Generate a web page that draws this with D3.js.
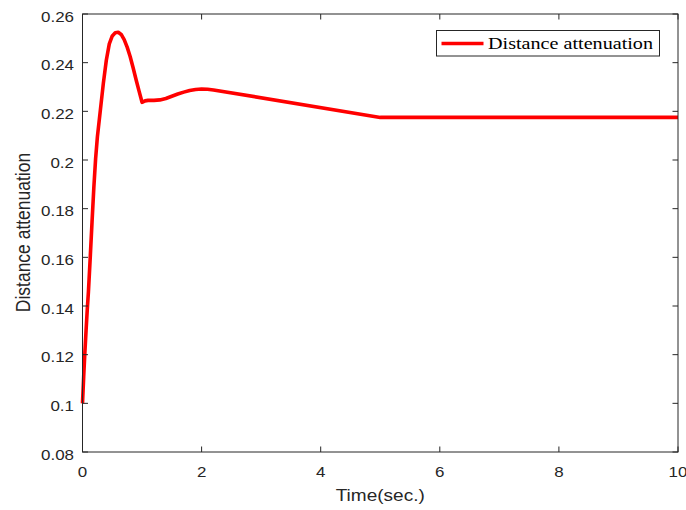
<!DOCTYPE html>
<html lang="en">
<head>
    <meta charset="UTF-8">
    <title>Distance attenuation</title>
    <script src="https://d3js.org/d3.v7.min.js"></script>
    <style>
        body {
            margin: 0;
            background: #fff;
        }
        svg {
            display: block;
        }
        .tick-label, .axis-title {
            font-family: "Liberation Sans", Arial, sans-serif;
            fill: #262626;
        }
        .legend-text {
            font-family: "Liberation Serif", "Times New Roman", serif;
            fill: #000;
        }
    </style>
</head>
<body>
    <script>
        const width = 686;
        const height = 510;

        // Time (sec.) and distance attenuation
        const timeValues = [0, 0.02, 0.04, 0.06, 0.08, 0.1, 0.13, 0.16, 0.19, 0.22, 0.25, 0.3, 0.35, 0.4, 0.45, 0.5,
            0.55, 0.6, 0.65, 0.7, 0.75, 0.8, 0.85, 0.9, 0.95, 1.0, 1.05, 1.1, 1.2, 1.3, 1.4, 1.5, 1.6, 1.7,
            1.8, 1.9, 2.0, 2.1, 2.2, 5.0, 10.0];
        const attenuationValues = [0.1, 0.111, 0.121, 0.13, 0.1385, 0.146, 0.16, 0.1745, 0.1885, 0.2005, 0.2095,
            0.2205, 0.2315, 0.241, 0.2477, 0.251, 0.2523, 0.2525, 0.2516, 0.2495, 0.2464, 0.2425, 0.2379, 0.233,
            0.2283, 0.2237, 0.2243, 0.2245, 0.2245, 0.2247, 0.2253, 0.2262, 0.2271, 0.2279, 0.2286, 0.229,
            0.2292, 0.2291, 0.2288, 0.2175, 0.2175];

        const xTicks = [0, 2, 4, 6, 8, 10];
        const yTicks = [0.08, 0.1, 0.12, 0.14, 0.16, 0.18, 0.2, 0.22, 0.24, 0.26];
        const seriesName = "Distance attenuation";
        const xTitle = "Time(sec.)";
        const yTitle = "Distance attenuation";

        const plot = { left: 82.5, right: 678, top: 14, bottom: 452 };
        const axisColor = "#262626";
        const tickLen = 5.5;

        const svg = d3.select("body").append("svg")
            .attr("width", width)
            .attr("height", height);

        const x = d3.scaleLinear().domain([0, 10]).range([plot.left, plot.right]);
        const y = d3.scaleLinear().domain([0.08, 0.26]).range([plot.bottom, plot.top]);

        const data = timeValues.map((t, i) => ({ t: t, v: attenuationValues[i] }));

        // data line (drawn first, box goes on top like matlab)
        const line = d3.line()
            .x(d => x(d.t))
            .y(d => y(d.v));

        svg.append("path")
            .datum(data)
            .attr("fill", "none")
            .attr("stroke", "#ff0000")
            .attr("stroke-width", 3.6)
            .attr("stroke-linejoin", "round")
            .attr("d", line);

        // ticks, inward on all four sides
        const ticks = svg.append("g")
            .attr("stroke", axisColor)
            .attr("stroke-width", 1);

        xTicks.forEach(t => {
            ticks.append("line")
                .attr("x1", x(t)).attr("x2", x(t))
                .attr("y1", plot.bottom).attr("y2", plot.bottom - tickLen);
            ticks.append("line")
                .attr("x1", x(t)).attr("x2", x(t))
                .attr("y1", plot.top).attr("y2", plot.top + tickLen);
        });
        yTicks.forEach(t => {
            ticks.append("line")
                .attr("x1", plot.left).attr("x2", plot.left + tickLen)
                .attr("y1", y(t)).attr("y2", y(t));
            ticks.append("line")
                .attr("x1", plot.right).attr("x2", plot.right - tickLen)
                .attr("y1", y(t)).attr("y2", y(t));
        });

        // axes box
        svg.append("rect")
            .attr("x", plot.left)
            .attr("y", plot.top)
            .attr("width", plot.right - plot.left)
            .attr("height", plot.bottom - plot.top)
            .attr("fill", "none")
            .attr("stroke", axisColor)
            .attr("stroke-width", 1);

        // tick labels
        svg.append("g").selectAll("text")
            .data(xTicks)
            .enter().append("text")
            .attr("class", "tick-label")
            .attr("text-anchor", "middle")
            .attr("font-size", 15)
            .attr("transform", d => `translate(${x(d)},477) scale(1.13,1)`)
            .text(d => d);

        svg.append("g").selectAll("text")
            .data(yTicks)
            .enter().append("text")
            .attr("class", "tick-label")
            .attr("text-anchor", "end")
            .attr("font-size", 15)
            .attr("transform", d => `translate(74,${y(d) + 7.5}) scale(1.13,1)`)
            .text(d => d3.format("~g")(d));

        // axis titles
        svg.append("text")
            .attr("class", "axis-title")
            .attr("text-anchor", "middle")
            .attr("font-size", 17)
            .attr("transform", `translate(${(plot.left + plot.right) / 2},501) scale(1.12,1)`)
            .text(xTitle);

        svg.append("text")
            .attr("class", "axis-title")
            .attr("text-anchor", "middle")
            .attr("font-size", 17.5)
            .attr("transform", `translate(30,232.5) rotate(-90) scale(1,1.12)`)
            .text(yTitle);

        // legend
        const legend = svg.append("g");

        legend.append("rect")
            .attr("x", 436.5)
            .attr("y", 30.5)
            .attr("width", 223)
            .attr("height", 25.5)
            .attr("fill", "#fff")
            .attr("stroke", axisColor)
            .attr("stroke-width", 1);

        legend.append("line")
            .attr("x1", 441.5).attr("x2", 483.5)
            .attr("y1", 43.5).attr("y2", 43.5)
            .attr("stroke", "#ff0000")
            .attr("stroke-width", 3.6);

        legend.append("text")
            .attr("class", "legend-text")
            .attr("x", 488)
            .attr("y", 48.5)
            .attr("font-size", 17.5)
            .attr("textLength", 165)
            .attr("lengthAdjust", "spacingAndGlyphs")
            .text(seriesName);
    </script>
</body>
</html>
